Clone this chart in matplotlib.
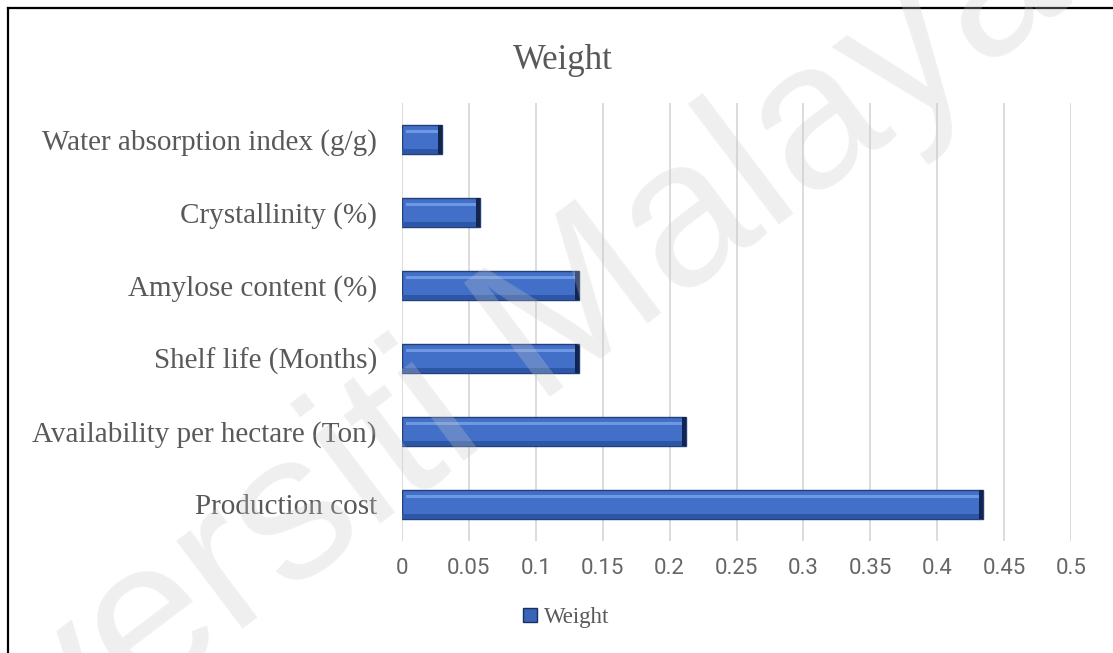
import numpy as np
import matplotlib
matplotlib.use("Agg")
from matplotlib import pyplot as plt
from matplotlib.lines import Line2D
from matplotlib.patches import Patch

categorias = ["Production cost", "Availability per hectare (Ton)", "Shelf life (Months)",
              "Amylose content (%)", "Crystallinity (%)", "Water absorption index (g/g)"]
pesos = np.array([0.434, 0.212, 0.132, 0.132, 0.058, 0.030])
xticks = [0, 0.05, 0.1, 0.15, 0.2, 0.25, 0.3, 0.35, 0.4, 0.45, 0.5]
xlabels = ["0", "0.05", "0.1", "0.15", "0.2", "0.25", "0.3", "0.35", "0.4", "0.45", "0.5"]

W, H = 1113, 653
gris = "#595959"
serif = "Liberation Serif"

fig = plt.figure(figsize=(W / 100, H / 100), dpi=100)
ax = fig.add_axes([402 / W, 1 - 541 / H, (1071 - 402) / W, (541 - 103) / H])

y = np.arange(len(categorias))

# barra principal + efecto bisel
ax.barh(y, pesos, height=0.4, color="#4270C8", edgecolor="#22407a", linewidth=1, zorder=3)
ax.barh(y - 0.165, pesos, height=0.07, color="#2d56a6", zorder=4)
ax.barh(y + 0.11, pesos - 0.006, left=0.003, height=0.045, color="#6f98e3", zorder=4)
ax.barh(y, 0.003, left=pesos - 0.003, height=0.4, color="#14254d", zorder=5)

ax.set_xlim(0, 0.5)
ax.set_ylim(-0.5, len(categorias) - 0.5)
ax.set_xticks(xticks)
ax.set_xticklabels(xlabels, fontfamily="Roboto", fontsize=16, color="#666666")
ax.set_yticks(y)
ax.set_yticklabels(categorias, fontfamily=serif, fontsize=21, color=gris)
ax.tick_params(axis="both", length=0)
ax.tick_params(axis="y", pad=18)
ax.tick_params(axis="x", pad=12)
ax.grid(axis="x", color="#d9d9d9", linewidth=1.3)
ax.set_axisbelow(True)
for s in ax.spines.values():
    s.set_visible(False)

fig.text(563 / W, 1 - 69 / H, "Weight", fontfamily=serif, fontsize=25, color=gris,
         ha="center", va="baseline")

handle = Patch(facecolor="#3a64b8", edgecolor="#1a3060", linewidth=1)
fig.legend([handle], ["Weight"], loc="center", bbox_to_anchor=(566 / W, 1 - 618 / H),
           frameon=False, prop={"family": serif, "size": 16.5}, labelcolor=gris,
           handlelength=0.6, handleheight=0.55, handletextpad=0.3)

# marco del documento (solo arriba e izquierda)
fig.add_artist(Line2D([8 / W, 1], [1 - 8 / H, 1 - 8 / H], color="black", linewidth=1.6))
fig.add_artist(Line2D([8 / W, 8 / W], [0, 1 - 8 / H], color="black", linewidth=1.6))

# marca de agua
fig.text(440 / W, 1 - 480 / H, "Universiti Malaya", fontfamily="Liberation Sans", fontsize=150,
         color="#c8c8c8", alpha=0.28, rotation=37, rotation_mode="anchor",
         ha="center", va="baseline", zorder=10)

fig.savefig("out.png", dpi=100)
